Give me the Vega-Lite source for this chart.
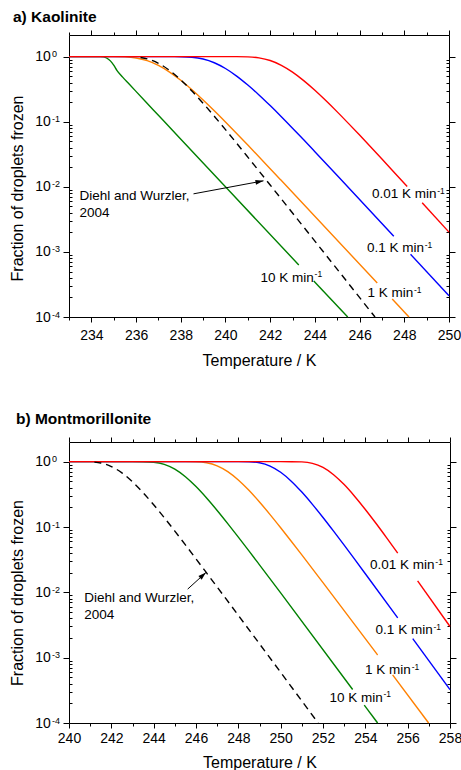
{
  "$schema": "https://vega.github.io/schema/vega-lite/v6.json",
  "padding": {"left": 9, "top": 10, "right": 0, "bottom": 0},
  "spacing": 43,
  "config": {
    "font": "Liberation Sans",
    "view": {"stroke": null},
    "axis": {"grid": false, "domainColor": "#000", "tickColor": "#000", "labelColor": "#000", "titleColor": "#000", "labelFont": "Liberation Sans", "titleFont": "Liberation Sans", "labelFontSize": 14, "titleFontSize": 16, "titleFontWeight": "normal", "labelFlush": false, "labelOverlap": false, "tickWidth": 1, "domainWidth": 1},
    "title": {"font": "Liberation Sans", "fontSize": 15.5, "fontWeight": "bold", "color": "#000", "anchor": "start", "frame": "group"}
  },
  "datasets": {
    "a_lines": [
      {"s": "g1", "r": "10", "T": 233, "f": 1}, {"s": "g1", "r": "10", "T": 234.4, "f": 1}, {"s": "g1", "r": "10", "T": 234.55, "f": 0.99}, {"s": "g1", "r": "10", "T": 234.7, "f": 0.944}, {"s": "g1", "r": "10", "T": 234.85, "f": 0.861}, {"s": "g1", "r": "10", "T": 235.0, "f": 0.74}, {"s": "g1", "r": "10", "T": 235.15, "f": 0.61}, {"s": "g1", "r": "10", "T": 235.4, "f": 0.484}, {"s": "g1", "r": "10", "T": 235.69, "f": 0.379}, {"s": "g1", "r": "10", "T": 236.43, "f": 0.203}, {"s": "g1", "r": "10", "T": 237.18, "f": 0.108}, {"s": "g1", "r": "10", "T": 237.93, "f": 0.0573}, {"s": "g1", "r": "10", "T": 240.23, "f": 0.00824}, {"s": "g1", "r": "10", "T": 243.28, "f": 0.00063},
      {"s": "g2", "r": "10", "T": 243.95, "f": 0.000357}, {"s": "g2", "r": "10", "T": 245.47, "f": 0.0001},
      {"s": "o1", "r": "1", "T": 233, "f": 1}, {"s": "o1", "r": "1", "T": 235.0, "f": 0.99925}, {"s": "o1", "r": "1", "T": 235.5, "f": 0.991}, {"s": "o1", "r": "1", "T": 236.0, "f": 0.9542}, {"s": "o1", "r": "1", "T": 236.5, "f": 0.8672}, {"s": "o1", "r": "1", "T": 237.0, "f": 0.7334}, {"s": "o1", "r": "1", "T": 237.5, "f": 0.5794}, {"s": "o1", "r": "1", "T": 238.0, "f": 0.4328}, {"s": "o1", "r": "1", "T": 238.5, "f": 0.3102}, {"s": "o1", "r": "1", "T": 239.0, "f": 0.2159}, {"s": "o1", "r": "1", "T": 239.5, "f": 0.1473}, {"s": "o1", "r": "1", "T": 240.0, "f": 0.099}, {"s": "o1", "r": "1", "T": 240.5, "f": 0.066}, {"s": "o1", "r": "1", "T": 241.0, "f": 0.04375}, {"s": "o1", "r": "1", "T": 242.0, "f": 0.01901}, {"s": "o1", "r": "1", "T": 242.46, "f": 0.01293}, {"s": "o1", "r": "1", "T": 246.79, "f": 0.000333},
      {"s": "o2", "r": "1", "T": 247.46, "f": 0.000189}, {"s": "o2", "r": "1", "T": 248.21, "f": 0.0001},
      {"s": "b1", "r": "0.1", "T": 233, "f": 1}, {"s": "b1", "r": "0.1", "T": 237.5, "f": 0.99988}, {"s": "b1", "r": "0.1", "T": 238.0, "f": 0.9972}, {"s": "b1", "r": "0.1", "T": 238.5, "f": 0.9787}, {"s": "b1", "r": "0.1", "T": 239.0, "f": 0.919}, {"s": "b1", "r": "0.1", "T": 239.5, "f": 0.806}, {"s": "b1", "r": "0.1", "T": 240.0, "f": 0.657}, {"s": "b1", "r": "0.1", "T": 240.5, "f": 0.503}, {"s": "b1", "r": "0.1", "T": 241.0, "f": 0.366}, {"s": "b1", "r": "0.1", "T": 241.5, "f": 0.258}, {"s": "b1", "r": "0.1", "T": 242.0, "f": 0.1768}, {"s": "b1", "r": "0.1", "T": 242.5, "f": 0.1193}, {"s": "b1", "r": "0.1", "T": 243.0, "f": 0.0796}, {"s": "b1", "r": "0.1", "T": 243.5, "f": 0.0527}, {"s": "b1", "r": "0.1", "T": 244.0, "f": 0.0347}, {"s": "b1", "r": "0.1", "T": 245.0, "f": 0.01495}, {"s": "b1", "r": "0.1", "T": 247.53, "f": 0.00174},
      {"s": "b2", "r": "0.1", "T": 248.28, "f": 0.000918}, {"s": "b2", "r": "0.1", "T": 250, "f": 0.000212},
      {"s": "r1", "r": "0.01", "T": 233, "f": 1}, {"s": "r1", "r": "0.01", "T": 240.0, "f": 1}, {"s": "r1", "r": "0.01", "T": 240.5, "f": 0.99945}, {"s": "r1", "r": "0.01", "T": 241.0, "f": 0.9924}, {"s": "r1", "r": "0.01", "T": 241.5, "f": 0.958}, {"s": "r1", "r": "0.01", "T": 242.0, "f": 0.8714}, {"s": "r1", "r": "0.01", "T": 242.5, "f": 0.7358}, {"s": "r1", "r": "0.01", "T": 243.0, "f": 0.5783}, {"s": "r1", "r": "0.01", "T": 243.5, "f": 0.4287}, {"s": "r1", "r": "0.01", "T": 244.0, "f": 0.3046}, {"s": "r1", "r": "0.01", "T": 244.5, "f": 0.2099}, {"s": "r1", "r": "0.01", "T": 245.0, "f": 0.1417}, {"s": "r1", "r": "0.01", "T": 245.5, "f": 0.0943}, {"s": "r1", "r": "0.01", "T": 246.0, "f": 0.0623}, {"s": "r1", "r": "0.01", "T": 246.5, "f": 0.04086}, {"s": "r1", "r": "0.01", "T": 247.0, "f": 0.0267}, {"s": "r1", "r": "0.01", "T": 247.5, "f": 0.0174}, {"s": "r1", "r": "0.01", "T": 248.13, "f": 0.01011},
      {"s": "r2", "r": "0.01", "T": 248.8, "f": 0.0057}, {"s": "r2", "r": "0.01", "T": 250, "f": 0.002015}
    ],
    "a_dw": [
      {"T": 236.2, "f": 0.969}, {"T": 236.5, "f": 0.924}, {"T": 237.0, "f": 0.791}, {"T": 237.5, "f": 0.614}, {"T": 238.0, "f": 0.439}, {"T": 238.5, "f": 0.296}, {"T": 239.0, "f": 0.192}, {"T": 239.5, "f": 0.1216}, {"T": 240.0, "f": 0.0757}, {"T": 240.5, "f": 0.0467}, {"T": 241.0, "f": 0.02862}, {"T": 242.0, "f": 0.01066}, {"T": 246.69, "f": 0.0001}
    ],
    "a_dwlab": [
      {"T": 233.465, "f": 0.0062, "t": "Diehl and Wurzler,"},
      {"T": 233.465, "f": 0.003455, "t": "2004"}
    ],
    "a_rate": [
      {"T": 249.44, "f": 0.00665, "t": "0.01 K min", "sup": "-1"},
      {"T": 248.88, "f": 0.001, "t": "0.1 K min", "sup": "-1"},
      {"T": 248.40, "f": 0.0002, "t": "1 K min", "sup": "-1"},
      {"T": 243.95, "f": 0.000349, "t": "10 K min", "sup": "-1"}
    ],
    "a_arr": [{"T": 238.57, "f": 0.0078, "T2": 241.70, "f2": 0.01236}],
    "b_lines": [
      {"s": "g1", "r": "10", "T": 240, "f": 1}, {"s": "g1", "r": "10", "T": 243.0, "f": 1}, {"s": "g1", "r": "10", "T": 243.5, "f": 0.9986}, {"s": "g1", "r": "10", "T": 244.0, "f": 0.9813}, {"s": "g1", "r": "10", "T": 244.5, "f": 0.9105}, {"s": "g1", "r": "10", "T": 245.0, "f": 0.7685}, {"s": "g1", "r": "10", "T": 245.5, "f": 0.588}, {"s": "g1", "r": "10", "T": 246.0, "f": 0.4158}, {"s": "g1", "r": "10", "T": 246.5, "f": 0.2781}, {"s": "g1", "r": "10", "T": 247.0, "f": 0.1792}, {"s": "g1", "r": "10", "T": 247.5, "f": 0.1128}, {"s": "g1", "r": "10", "T": 248.0, "f": 0.07002}, {"s": "g1", "r": "10", "T": 248.5, "f": 0.04305}, {"s": "g1", "r": "10", "T": 249.0, "f": 0.02633}, {"s": "g1", "r": "10", "T": 250.0, "f": 0.0098}, {"s": "g1", "r": "10", "T": 253.4, "f": 0.000326},
      {"s": "g2", "r": "10", "T": 253.95, "f": 0.000188}, {"s": "g2", "r": "10", "T": 254.58, "f": 0.0001},
      {"s": "o1", "r": "1", "T": 240, "f": 1}, {"s": "o1", "r": "1", "T": 245.5, "f": 0.99985}, {"s": "o1", "r": "1", "T": 246.0, "f": 0.9954}, {"s": "o1", "r": "1", "T": 246.5, "f": 0.9624}, {"s": "o1", "r": "1", "T": 247.0, "f": 0.8647}, {"s": "o1", "r": "1", "T": 247.5, "f": 0.7045}, {"s": "o1", "r": "1", "T": 248.0, "f": 0.5243}, {"s": "o1", "r": "1", "T": 248.5, "f": 0.3642}, {"s": "o1", "r": "1", "T": 249.0, "f": 0.2413}, {"s": "o1", "r": "1", "T": 249.5, "f": 0.1549}, {"s": "o1", "r": "1", "T": 250.0, "f": 0.0975}, {"s": "o1", "r": "1", "T": 250.5, "f": 0.06063}, {"s": "o1", "r": "1", "T": 251.0, "f": 0.03742}, {"s": "o1", "r": "1", "T": 252.0, "f": 0.01406}, {"s": "o1", "r": "1", "T": 254.58, "f": 0.0011},
      {"s": "o2", "r": "1", "T": 255.29, "f": 0.000546}, {"s": "o2", "r": "1", "T": 256.99, "f": 0.0001},
      {"s": "b1", "r": "0.1", "T": 240, "f": 1}, {"s": "b1", "r": "0.1", "T": 248.0, "f": 0.99988}, {"s": "b1", "r": "0.1", "T": 248.5, "f": 0.9955}, {"s": "b1", "r": "0.1", "T": 249.0, "f": 0.961}, {"s": "b1", "r": "0.1", "T": 249.5, "f": 0.857}, {"s": "b1", "r": "0.1", "T": 250.0, "f": 0.6884}, {"s": "b1", "r": "0.1", "T": 250.5, "f": 0.503}, {"s": "b1", "r": "0.1", "T": 251.0, "f": 0.3422}, {"s": "b1", "r": "0.1", "T": 251.5, "f": 0.2221}, {"s": "b1", "r": "0.1", "T": 252.0, "f": 0.1398}, {"s": "b1", "r": "0.1", "T": 252.5, "f": 0.0863}, {"s": "b1", "r": "0.1", "T": 253.0, "f": 0.0527}, {"s": "b1", "r": "0.1", "T": 253.5, "f": 0.03192}, {"s": "b1", "r": "0.1", "T": 254.0, "f": 0.01926}, {"s": "b1", "r": "0.1", "T": 255.53, "f": 0.00406},
      {"s": "b2", "r": "0.1", "T": 256.24, "f": 0.00196}, {"s": "b2", "r": "0.1", "T": 258, "f": 0.000324},
      {"s": "r1", "r": "0.01", "T": 240, "f": 1}, {"s": "r1", "r": "0.01", "T": 250.0, "f": 1}, {"s": "r1", "r": "0.01", "T": 250.5, "f": 0.99974}, {"s": "r1", "r": "0.01", "T": 251.0, "f": 0.9924}, {"s": "r1", "r": "0.01", "T": 251.5, "f": 0.9435}, {"s": "r1", "r": "0.01", "T": 252.0, "f": 0.8166}, {"s": "r1", "r": "0.01", "T": 252.5, "f": 0.6321}, {"s": "r1", "r": "0.01", "T": 253.0, "f": 0.4455}, {"s": "r1", "r": "0.01", "T": 253.5, "f": 0.2937}, {"s": "r1", "r": "0.01", "T": 254.0, "f": 0.1855}, {"s": "r1", "r": "0.01", "T": 254.5, "f": 0.114}, {"s": "r1", "r": "0.01", "T": 255.0, "f": 0.06883}, {"s": "r1", "r": "0.01", "T": 255.53, "f": 0.03992},
      {"s": "r2", "r": "0.01", "T": 256.47, "f": 0.01499}, {"s": "r2", "r": "0.01", "T": 258, "f": 0.003}
    ],
    "b_dw": [
      {"T": 241.2, "f": 0.9839}, {"T": 241.5, "f": 0.9528}, {"T": 242.0, "f": 0.8423}, {"T": 242.5, "f": 0.6728}, {"T": 243.0, "f": 0.4912}, {"T": 243.5, "f": 0.3356}, {"T": 244.0, "f": 0.219}, {"T": 244.5, "f": 0.1389}, {"T": 245.0, "f": 0.08647}, {"T": 245.5, "f": 0.05323}, {"T": 246.0, "f": 0.03254}, {"T": 246.5, "f": 0.01981}, {"T": 247.0, "f": 0.01205}, {"T": 251.77, "f": 0.0001}
    ],
    "b_dwlab": [
      {"T": 240.72, "f": 0.00703, "t": "Diehl and Wurzler,"},
      {"T": 240.72, "f": 0.003926, "t": "2004"}
    ],
    "b_rate": [
      {"T": 257.27, "f": 0.0229, "t": "0.01 K min", "sup": "-1"},
      {"T": 257.18, "f": 0.002286, "t": "0.1 K min", "sup": "-1"},
      {"T": 256.15, "f": 0.000557, "t": "1 K min", "sup": "-1"},
      {"T": 254.82, "f": 0.000212, "t": "10 K min", "sup": "-1"}
    ],
    "b_arr": [{"T": 245.607, "f": 0.0112, "T2": 246.47, "f2": 0.0201}]
  },
  "vconcat": [
    {
      "width": 380,
      "height": 282,
      "title": {"text": "a) Kaolinite", "dx": -56, "offset": 4},
      "resolve": {"axis": {"x": "independent", "y": "independent"}},
      "layer": [
        {
          "data": {"name": "a_lines"},
          "mark": {"type": "line", "strokeWidth": 1.4, "interpolate": "monotone"},
          "encoding": {
            "x": {"field": "T", "type": "quantitative", "scale": {"domain": [233, 250], "nice": false, "zero": false},
                  "axis": {"orient": "bottom", "values": [234, 236, 238, 240, 242, 244, 246, 248, 250], "format": "d", "tickSize": 5, "labelPadding": 6, "title": "Temperature / K", "titlePadding": 10.5, "domain": true}},
            "y": {"field": "f", "type": "quantitative", "scale": {"type": "log", "domain": [0.0001, 2.15], "nice": false},
                  "axis": {"orient": "left", "values": [0.0001, 0.001, 0.01, 0.1, 1], "tickSize": 6, "labelExpr": "'10'", "labelPadding": 12.6, "labelBaseline": "middle", "title": "Fraction of droplets frozen", "titlePadding": 9, "titleY": 153, "domain": true}},
            "color": {"field": "r", "type": "nominal", "scale": {"domain": ["10", "1", "0.1", "0.01"], "range": ["#008000", "#ff8000", "#0000ff", "#ff0000"]}, "legend": null},
            "detail": {"field": "s"}
          }
        },
        {
          "data": {"name": "a_dw"},
          "mark": {"type": "line", "strokeWidth": 1.4, "color": "#000", "strokeDash": [7, 5], "interpolate": "monotone"},
          "encoding": {
            "x": {"field": "T", "type": "quantitative", "scale": {"domain": [233, 250], "nice": false, "zero": false},
                  "axis": {"orient": "bottom", "values": [233, 235, 237, 239, 241, 243, 245, 247, 249], "tickSize": 3, "labels": false, "domain": false, "title": null}},
            "y": {"field": "f", "type": "quantitative", "scale": {"type": "log", "domain": [0.0001, 2.15], "nice": false},
                  "axis": {"orient": "left", "values": [0.0001, 0.001, 0.01, 0.1, 1], "ticks": false, "tickSize": 0, "domain": false, "labelExpr": "'' + round(log(datum.value) / LN10)", "labelAlign": "left", "labelBaseline": "alphabetic", "labelFontSize": 9, "labelPadding": 17.6, "title": null}}
          }
        },
        {
          "data": {"name": "a_dwlab"},
          "mark": {"type": "text", "align": "left", "baseline": "alphabetic", "fontSize": 13.5, "color": "#000"},
          "encoding": {
            "x": {"field": "T", "type": "quantitative", "scale": {"domain": [233, 250], "nice": false, "zero": false},
                  "axis": {"orient": "top", "values": [234, 236, 238, 240, 242, 244, 246, 248, 250], "tickSize": 5, "labels": false, "domain": true, "title": null}},
            "y": {"field": "f", "type": "quantitative", "scale": {"type": "log", "domain": [0.0001, 2.15], "nice": false},
                  "axis": {"orient": "left", "values": [0.0002, 0.0003, 0.0004, 0.0005, 0.0006, 0.0007, 0.0008, 0.0009, 0.002, 0.003, 0.004, 0.005, 0.006, 0.007, 0.008, 0.009, 0.02, 0.03, 0.04, 0.05, 0.06, 0.07, 0.08, 0.09, 0.2, 0.3, 0.4, 0.5, 0.6, 0.7, 0.8, 0.9], "tickSize": -3, "labels": false, "domain": false, "title": null}},
            "text": {"field": "t"}
          }
        },
        {
          "data": {"name": "a_rate"},
          "mark": {"type": "text", "align": "right", "baseline": "alphabetic", "fontSize": 13.5, "color": "#000"},
          "encoding": {
            "x": {"field": "T", "type": "quantitative", "scale": {"domain": [233, 250], "nice": false, "zero": false},
                  "axis": {"orient": "top", "values": [233, 235, 237, 239, 241, 243, 245, 247, 249], "tickSize": 3, "labels": false, "domain": false, "title": null}},
            "y": {"field": "f", "type": "quantitative", "scale": {"type": "log", "domain": [0.0001, 2.15], "nice": false},
                  "axis": {"orient": "right", "values": [0.0001, 0.001, 0.01, 0.1, 1], "tickSize": 6, "labels": false, "domain": true, "title": null}},
            "text": {"field": "t"}
          }
        },
        {
          "data": {"name": "a_rate"},
          "mark": {"type": "text", "align": "left", "baseline": "alphabetic", "fontSize": 8.5, "dx": 0.8, "dy": -4.3, "color": "#000"},
          "encoding": {
            "x": {"field": "T", "type": "quantitative", "scale": {"domain": [233, 250], "nice": false, "zero": false}, "axis": null},
            "y": {"field": "f", "type": "quantitative", "scale": {"type": "log", "domain": [0.0001, 2.15], "nice": false},
                  "axis": {"orient": "right", "values": [0.0002, 0.0003, 0.0004, 0.0005, 0.0006, 0.0007, 0.0008, 0.0009, 0.002, 0.003, 0.004, 0.005, 0.006, 0.007, 0.008, 0.009, 0.02, 0.03, 0.04, 0.05, 0.06, 0.07, 0.08, 0.09, 0.2, 0.3, 0.4, 0.5, 0.6, 0.7, 0.8, 0.9], "tickSize": -3, "labels": false, "domain": false, "title": null}},
            "text": {"field": "sup"}
          }
        },
        {
          "data": {"name": "a_arr"},
          "mark": {"type": "rule", "color": "#000", "strokeWidth": 1},
          "encoding": {
            "x": {"field": "T", "type": "quantitative", "scale": {"domain": [233, 250], "nice": false, "zero": false}, "axis": null},
            "x2": {"field": "T2"},
            "y": {"field": "f", "type": "quantitative", "scale": {"type": "log", "domain": [0.0001, 2.15], "nice": false}, "axis": null},
            "y2": {"field": "f2"}
          }
        },
        {
          "data": {"name": "a_arr"},
          "mark": {"type": "point", "shape": "M0,0L-1,-0.3L-1,0.3Z", "size": 256, "filled": true, "opacity": 1, "color": "#000", "strokeWidth": 0, "angle": 349.5},
          "encoding": {
            "x": {"field": "T2", "type": "quantitative", "scale": {"domain": [233, 250], "nice": false, "zero": false}, "axis": null},
            "y": {"field": "f2", "type": "quantitative", "scale": {"type": "log", "domain": [0.0001, 2.15], "nice": false}, "axis": null}
          }
        }
      ]
    },
    {
      "width": 381,
      "height": 281,
      "title": {"text": "b) Montmorillonite", "dx": -53, "offset": 9},
      "resolve": {"axis": {"x": "independent", "y": "independent"}},
      "layer": [
        {
          "data": {"name": "b_lines"},
          "mark": {"type": "line", "strokeWidth": 1.4, "interpolate": "monotone"},
          "encoding": {
            "x": {"field": "T", "type": "quantitative", "scale": {"domain": [240, 258], "nice": false, "zero": false},
                  "axis": {"orient": "bottom", "values": [240, 242, 244, 246, 248, 250, 252, 254, 256, 258], "format": "d", "tickSize": 5, "labelPadding": 3.7, "title": "Temperature / K", "titlePadding": 9, "domain": true}},
            "y": {"field": "f", "type": "quantitative", "scale": {"type": "log", "domain": [0.0001, 2.0], "nice": false},
                  "axis": {"orient": "left", "values": [0.0001, 0.001, 0.01, 0.1, 1], "tickSize": 6, "labelExpr": "'10'", "labelPadding": 12.6, "labelBaseline": "middle", "title": "Fraction of droplets frozen", "titlePadding": 9, "titleY": 150.5, "domain": true}},
            "color": {"field": "r", "type": "nominal", "scale": {"domain": ["10", "1", "0.1", "0.01"], "range": ["#008000", "#ff8000", "#0000ff", "#ff0000"]}, "legend": null},
            "detail": {"field": "s"}
          }
        },
        {
          "data": {"name": "b_dw"},
          "mark": {"type": "line", "strokeWidth": 1.4, "color": "#000", "strokeDash": [7, 5], "interpolate": "monotone"},
          "encoding": {
            "x": {"field": "T", "type": "quantitative", "scale": {"domain": [240, 258], "nice": false, "zero": false},
                  "axis": {"orient": "bottom", "values": [241, 243, 245, 247, 249, 251, 253, 255, 257], "tickSize": 3, "labels": false, "domain": false, "title": null}},
            "y": {"field": "f", "type": "quantitative", "scale": {"type": "log", "domain": [0.0001, 2.0], "nice": false},
                  "axis": {"orient": "left", "values": [0.0001, 0.001, 0.01, 0.1, 1], "ticks": false, "tickSize": 0, "domain": false, "labelExpr": "'' + round(log(datum.value) / LN10)", "labelAlign": "left", "labelBaseline": "alphabetic", "labelFontSize": 9, "labelPadding": 17.6, "title": null}}
          }
        },
        {
          "data": {"name": "b_dwlab"},
          "mark": {"type": "text", "align": "left", "baseline": "alphabetic", "fontSize": 13.5, "color": "#000"},
          "encoding": {
            "x": {"field": "T", "type": "quantitative", "scale": {"domain": [240, 258], "nice": false, "zero": false},
                  "axis": {"orient": "top", "values": [240, 242, 244, 246, 248, 250, 252, 254, 256, 258], "tickSize": 5, "labels": false, "domain": true, "title": null}},
            "y": {"field": "f", "type": "quantitative", "scale": {"type": "log", "domain": [0.0001, 2.0], "nice": false},
                  "axis": {"orient": "left", "values": [0.0002, 0.0003, 0.0004, 0.0005, 0.0006, 0.0007, 0.0008, 0.0009, 0.002, 0.003, 0.004, 0.005, 0.006, 0.007, 0.008, 0.009, 0.02, 0.03, 0.04, 0.05, 0.06, 0.07, 0.08, 0.09, 0.2, 0.3, 0.4, 0.5, 0.6, 0.7, 0.8, 0.9], "tickSize": -3, "labels": false, "domain": false, "title": null}},
            "text": {"field": "t"}
          }
        },
        {
          "data": {"name": "b_rate"},
          "mark": {"type": "text", "align": "right", "baseline": "alphabetic", "fontSize": 13.5, "color": "#000"},
          "encoding": {
            "x": {"field": "T", "type": "quantitative", "scale": {"domain": [240, 258], "nice": false, "zero": false},
                  "axis": {"orient": "top", "values": [241, 243, 245, 247, 249, 251, 253, 255, 257], "tickSize": 3, "labels": false, "domain": false, "title": null}},
            "y": {"field": "f", "type": "quantitative", "scale": {"type": "log", "domain": [0.0001, 2.0], "nice": false},
                  "axis": {"orient": "right", "values": [0.0001, 0.001, 0.01, 0.1, 1], "tickSize": 6, "labels": false, "domain": true, "title": null}},
            "text": {"field": "t"}
          }
        },
        {
          "data": {"name": "b_rate"},
          "mark": {"type": "text", "align": "left", "baseline": "alphabetic", "fontSize": 8.5, "dx": 0.8, "dy": -4.3, "color": "#000"},
          "encoding": {
            "x": {"field": "T", "type": "quantitative", "scale": {"domain": [240, 258], "nice": false, "zero": false}, "axis": null},
            "y": {"field": "f", "type": "quantitative", "scale": {"type": "log", "domain": [0.0001, 2.0], "nice": false},
                  "axis": {"orient": "right", "values": [0.0002, 0.0003, 0.0004, 0.0005, 0.0006, 0.0007, 0.0008, 0.0009, 0.002, 0.003, 0.004, 0.005, 0.006, 0.007, 0.008, 0.009, 0.02, 0.03, 0.04, 0.05, 0.06, 0.07, 0.08, 0.09, 0.2, 0.3, 0.4, 0.5, 0.6, 0.7, 0.8, 0.9], "tickSize": -3, "labels": false, "domain": false, "title": null}},
            "text": {"field": "sup"}
          }
        },
        {
          "data": {"name": "b_arr"},
          "mark": {"type": "rule", "color": "#000", "strokeWidth": 1},
          "encoding": {
            "x": {"field": "T", "type": "quantitative", "scale": {"domain": [240, 258], "nice": false, "zero": false}, "axis": null},
            "x2": {"field": "T2"},
            "y": {"field": "f", "type": "quantitative", "scale": {"type": "log", "domain": [0.0001, 2.0], "nice": false}, "axis": null},
            "y2": {"field": "f2"}
          }
        },
        {
          "data": {"name": "b_arr"},
          "mark": {"type": "point", "shape": "M0,0L-1,-0.3L-1,0.3Z", "size": 256, "filled": true, "opacity": 1, "color": "#000", "strokeWidth": 0, "angle": 317.8},
          "encoding": {
            "x": {"field": "T2", "type": "quantitative", "scale": {"domain": [240, 258], "nice": false, "zero": false}, "axis": null},
            "y": {"field": "f2", "type": "quantitative", "scale": {"type": "log", "domain": [0.0001, 2.0], "nice": false}, "axis": null}
          }
        }
      ]
    }
  ]
}
